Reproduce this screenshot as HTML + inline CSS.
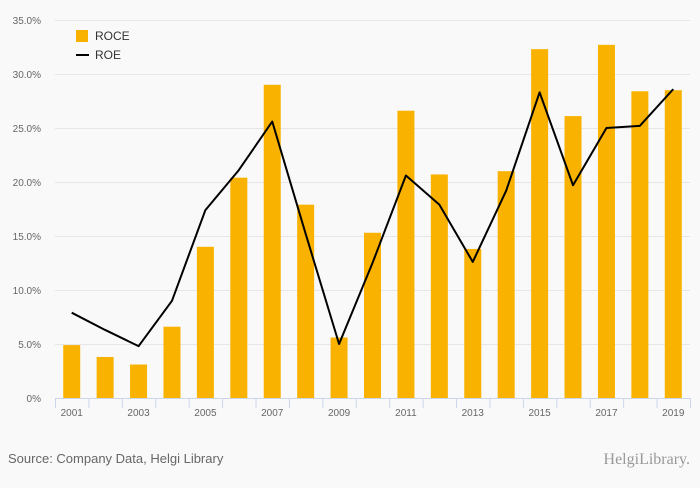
<!DOCTYPE html>
<html><head><meta charset="utf-8"><style>
body{margin:0;background:#f9f9f9;font-family:"Liberation Sans",sans-serif;}
#wrap{position:relative;width:700px;height:483px;}
</style></head><body>
<div id="wrap">
<svg id="chart" width="700" height="483"></svg>
</div>
<script>
const years=["2001","2002","2003","2004","2005","2006","2007","2008","2009","2010","2011","2012","2013","2014","2015","2016","2017","2018","2019"];
const roce=[4.9,3.8,3.1,6.6,14.0,20.4,29.0,17.9,5.6,15.3,26.6,20.7,13.8,21.0,32.3,26.1,32.7,28.4,28.5];
const roe=[7.9,6.3,4.8,9.0,17.4,21.1,25.6,15.2,5.0,12.5,20.6,17.9,12.6,19.2,28.3,19.7,25.0,25.2,28.6];
const yTicks=[0,5,10,15,20,25,30,35];
const NS="http://www.w3.org/2000/svg";
const svg=document.getElementById('chart');
const L=55,R=690,T=20,B=398,MAX=35;
const bw=(R-L)/years.length;
const x=i=>L+bw*(i+0.5);
const y=v=>B-(v/MAX)*(B-T);
function mk(t,a,p){const e=document.createElementNS(NS,t);for(const k in a)e.setAttribute(k,a[k]);(p||svg).appendChild(e);return e;}
yTicks.forEach(v=>{
 const g=mk('line',{x1:L,x2:R,y1:y(v)+0.5,y2:y(v)+0.5,stroke:v?'#e6e6e6':'#ccd6eb','stroke-width':1});
 
 
 const t=mk('text',{x:L-14,y:y(v)+4,'text-anchor':'end','font-size':10,fill:'#666'});
 t.textContent=v===0?'0%':v.toFixed(1)+'%';
 
 
});
for(let i=0;i<=years.length;i++){
 const tk=mk('line',{x1:L+bw*i+0.5,x2:L+bw*i+0.5,y1:B,y2:B+10,stroke:'#ccd6eb'});
 
 
}
roce.forEach((v,i)=>{
 const r=mk('rect',{x:x(i)-8.5,y:y(v),width:17,height:B-y(v),fill:'#f9b200'});
 
 
});
years.forEach((yr,i)=>{
 if(i%2)return;
 const t=mk('text',{x:x(i),y:B+18,'text-anchor':'middle','font-size':10,fill:'#666'});
 t.textContent=yr;
 
 
});
const ln=mk('polyline',{points:roe.map((v,i)=>x(i)+','+y(v)).join(' '),fill:'none',stroke:'#000','stroke-width':2,'stroke-linejoin':'round'});


const lg1=mk('rect',{x:76,y:30,width:12,height:12,fill:'#f9b200'});


const lt1=mk('text',{x:95,y:40,'font-size':12,fill:'#333'});lt1.textContent='ROCE';


const lg2=mk('line',{x1:76,x2:89,y1:55,y2:55,stroke:'#000','stroke-width':2});


const lt2=mk('text',{x:95,y:59,'font-size':12,fill:'#333'});lt2.textContent='ROE';


const src=mk('text',{x:8,y:463,'font-size':13,fill:'#666'});src.textContent='Source: Company Data, Helgi Library';


const lo=mk('text',{x:690,y:464,'text-anchor':'end','font-size':16,fill:'#999','font-family':'Liberation Serif, serif'});lo.textContent='HelgiLibrary.';


</script>
</body></html>
